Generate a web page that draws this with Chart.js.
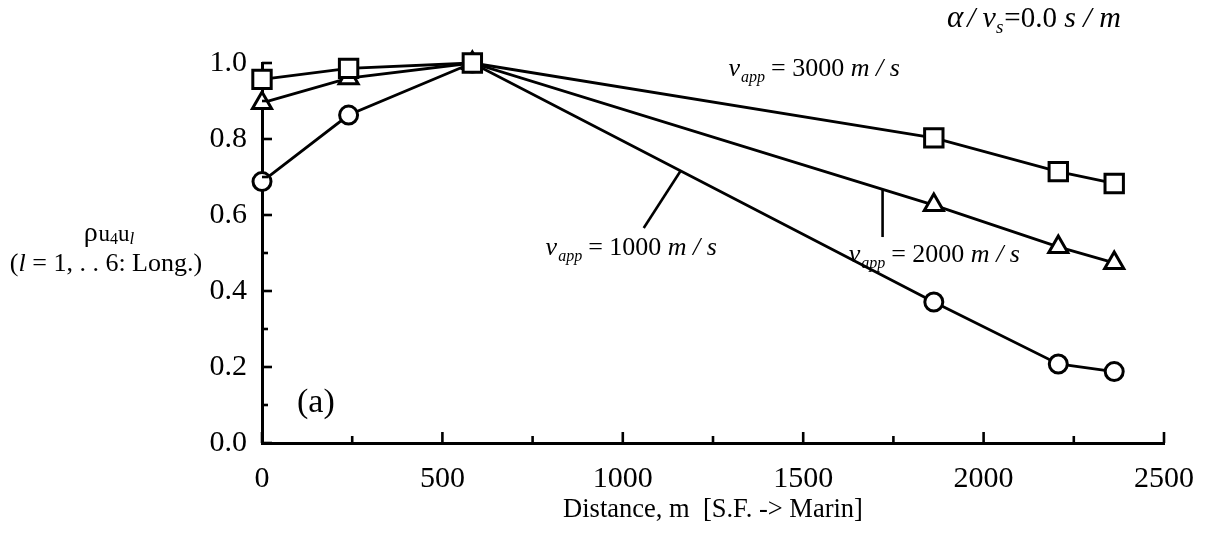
<!DOCTYPE html>
<html>
<head>
<meta charset="utf-8">
<script src="https://cdn.jsdelivr.net/npm/chart.js@4.4.1/dist/chart.umd.min.js"></script>
<style>
  html, body { margin: 0; padding: 0; background: #fff; }
  #wrap { width: 1206px; height: 535px; position: relative; }
</style>
</head>
<body>
<div id="wrap"><canvas id="c" width="1206" height="535"></canvas></div>
<script>
// ---- data ----
const distances = [0, 240, 583, 1862, 2207, 2362];
const rho3000 = [0.957, 0.986, 1.0, 0.803, 0.714, 0.683];
const rho2000 = [0.895, 0.960, 1.0, 0.626, 0.516, 0.474];
const rho1000 = [0.688, 0.863, 1.0, 0.371, 0.208, 0.188];
const xTickValues = [0, 500, 1000, 1500, 2000, 2500];
const yTickValues = [0.0, 0.2, 0.4, 0.6, 0.8, 1.0];
const xLabel = 'Distance, m  [S.F. -> Marin]';

const SERIF = "'Liberation Serif', 'Times New Roman', serif";

function series(ys) { return distances.map((d, i) => ({ x: d, y: ys[i] })); }

const baseDs = {
  borderColor: '#000', backgroundColor: '#fff', borderWidth: 2.8,
  pointBorderColor: '#000', pointBackgroundColor: '#fff', pointBorderWidth: 3,
  showLine: true, tension: 0, clip: false
};

// text runs helper
function drawRuns(ctx, x, y, runs, align) {
  let total = 0;
  runs.forEach(r => { ctx.font = r.f; total += ctx.measureText(r.t).width + (r.gap || 0); });
  let cx = align === 'center' ? x - total / 2 : (align === 'right' ? x - total : x);
  runs.forEach(r => {
    ctx.font = r.f;
    ctx.fillText(r.t, cx, y + (r.dy || 0));
    cx += ctx.measureText(r.t).width + (r.gap || 0);
  });
}
function vapp(num, size) {
  const it = 'italic ' + size + 'px ' + SERIF;
  const sub = 'italic ' + Math.round(size * 0.62) + 'px ' + SERIF;
  const up = size + 'px ' + SERIF;
  return [
    { t: 'v', f: it, gap: 1 }, { t: 'app', f: sub, dy: 6, gap: 6 },
    { t: '= ' + num + ' ', f: up }, { t: 'm / s', f: it }
  ];
}

const decor = {
  id: 'decor',
  afterDraw(chart) {
    const ctx = chart.ctx;
    const xs = chart.scales.x, ys = chart.scales.y;
    const area = chart.chartArea;
    ctx.save();
    ctx.strokeStyle = '#000';
    ctx.fillStyle = '#000';
    ctx.lineCap = 'butt';
    // inward ticks
    ctx.lineWidth = 2.6;
    for (let v = 0; v <= 2500; v += 250) {
      const px = xs.getPixelForValue(v);
      const len = (v % 500 === 0) ? 11 : 7;
      ctx.beginPath(); ctx.moveTo(px, area.bottom); ctx.lineTo(px, area.bottom - len); ctx.stroke();
    }
    for (let k = 0; k <= 10; k++) {
      const py = ys.getPixelForValue(k / 10);
      const len = (k % 2 === 0) ? 10 : 6;
      ctx.beginPath(); ctx.moveTo(area.left, py); ctx.lineTo(area.left + len, py); ctx.stroke();
    }
    // leader lines
    ctx.lineWidth = 2.6;
    const leaders = [[1720, 0.667, 1720, 0.542], [1058, 0.566, 1160, 0.716]];
    leaders.forEach(l => {
      ctx.beginPath();
      ctx.moveTo(xs.getPixelForValue(l[0]), ys.getPixelForValue(l[1]));
      ctx.lineTo(xs.getPixelForValue(l[2]), ys.getPixelForValue(l[3]));
      ctx.stroke();
    });
    // labels
    ctx.textBaseline = 'alphabetic';
    drawRuns(ctx, xs.getPixelForValue(1293), ys.getPixelForValue(0.966), vapp('3000', 26), 'left');
    drawRuns(ctx, xs.getPixelForValue(1626), ys.getPixelForValue(0.476), vapp('2000', 26), 'left');
    drawRuns(ctx, xs.getPixelForValue(786), ys.getPixelForValue(0.495), vapp('1000', 26), 'left');
    // top-right parameter
    drawRuns(ctx, 947, 27, [
      { t: 'α', f: 'italic 31px ' + SERIF, gap: 4 }, { t: '/ ', f: 'italic 29px ' + SERIF },
      { t: 'v', f: 'italic 30px ' + SERIF }, { t: 's', f: 'italic 19px ' + SERIF, dy: 6, gap: 1 },
      { t: '=0.0 ', f: '29px ' + SERIF }, { t: 's / m', f: 'italic 30px ' + SERIF }
    ], 'left');
    // (a)
    ctx.font = '34px ' + SERIF;
    ctx.textAlign = 'left';
    ctx.fillText('(a)', 297, 412);
    // y-axis title (horizontal)
    drawRuns(ctx, 109, 241, [
      { t: 'ρ', f: '28px ' + SERIF, gap: 1 },
      { t: 'u', f: '23px ' + SERIF }, { t: '4', f: '16px ' + SERIF, dy: 3 },
      { t: 'u', f: '23px ' + SERIF }, { t: 'l', f: 'italic 17px ' + SERIF, dy: 3 }
    ], 'center');
    drawRuns(ctx, 106, 271, [
      { t: '(', f: '26px ' + SERIF }, { t: 'l', f: 'italic 26px ' + SERIF },
      { t: ' = 1, . . 6: Long.)', f: '26px ' + SERIF }
    ], 'center');
    ctx.restore();
  }
};

new Chart(document.getElementById('c'), {
  type: 'scatter',
  data: {
    datasets: [
      Object.assign({}, baseDs, { label: 'v_app = 1000 m/s', data: series(rho1000), pointStyle: 'circle', pointRadius: 9, order: 3 }),
      Object.assign({}, baseDs, { label: 'v_app = 2000 m/s', data: series(rho2000), pointStyle: 'triangle', pointRadius: 11, order: 2 }),
      Object.assign({}, baseDs, { label: 'v_app = 3000 m/s', data: series(rho3000), pointStyle: 'rect', pointRadius: 13, order: 1 })
    ]
  },
  options: {
    responsive: false,
    animation: false,
    events: [],
    layout: { padding: { left: 0, right: 42, top: 63, bottom: 0 } },
    plugins: { legend: { display: false }, tooltip: { enabled: false } },
    scales: {
      x: {
        type: 'linear', min: 0, max: 2500,
        afterBuildTicks(s) { s.ticks = xTickValues.map(v => ({ value: v })); },
        ticks: { color: '#000', font: { family: SERIF, size: 30 }, padding: 18, maxRotation: 0, autoSkip: false,
                 callback: v => String(v) },
        grid: { display: false, drawTicks: false },
        border: { display: true, color: '#000', width: 3 },
        title: { display: true, text: xLabel, color: '#000', font: { family: SERIF, size: 26.5 }, padding: { top: 0, bottom: 9 } },
        afterFit(s) { s.height = 92; s.paddingLeft = 0; s.paddingRight = 0; }
      },
      y: {
        type: 'linear', min: 0, max: 1,
        afterBuildTicks(s) { s.ticks = yTickValues.map(v => ({ value: v })); },
        ticks: { color: '#000', font: { family: SERIF, size: 30 }, padding: 15, callback: v => Number(v).toFixed(1), autoSkip: false },
        grid: { display: false, drawTicks: false },
        border: { display: true, color: '#000', width: 3 },
        afterFit(s) { s.width = 262; s.paddingTop = 0; s.paddingBottom = 0; }
      }
    }
  },
  plugins: [decor]
});
</script>
</body>
</html>
